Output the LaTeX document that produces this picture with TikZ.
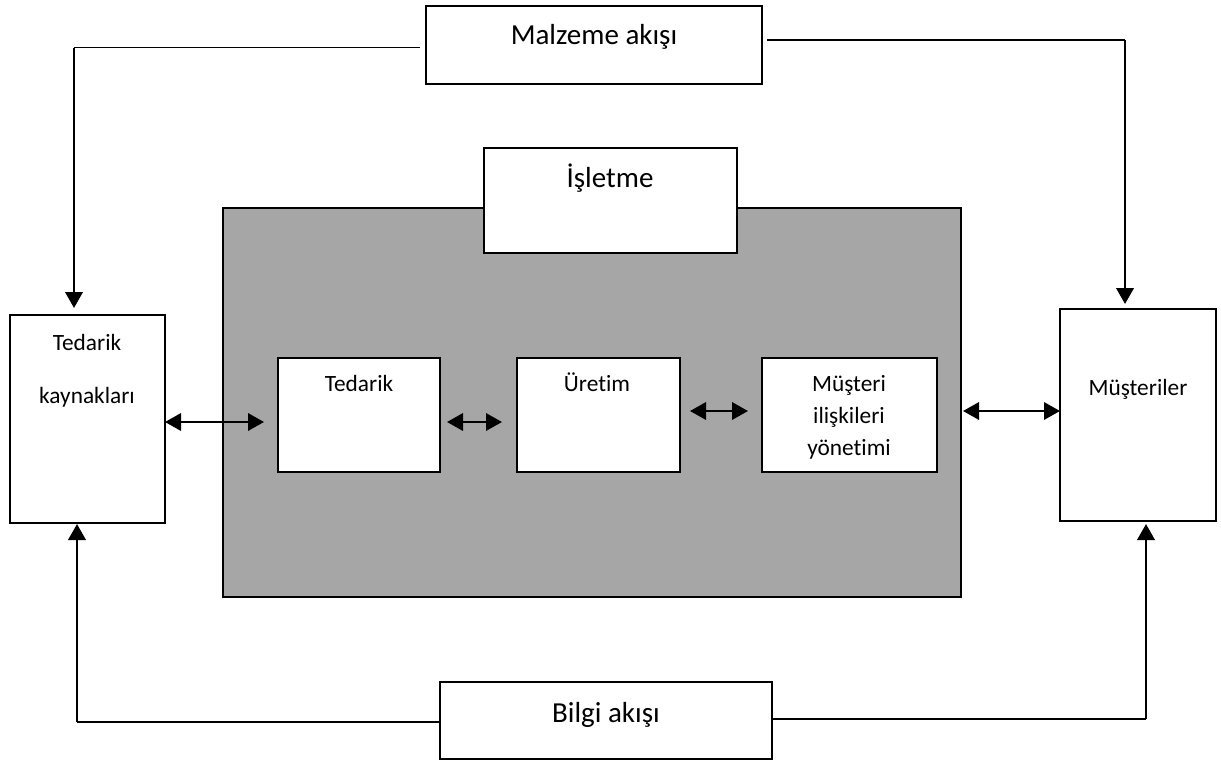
\documentclass[tikz,border=0pt]{standalone}
\usepackage{fontspec}
\setmainfont{Carlito}[Ligatures=NoCommon]
\usetikzlibrary{arrows.meta,fit}
\definecolor{firmgray}{RGB}{166,166,166}
\begin{document}
\begin{tikzpicture}[x=0.75pt,y=-0.75pt,
  box/.style={draw=black, fill=white, line width=1.5pt, inner sep=0pt, outer sep=0pt},
  firmbox/.style={draw=black, fill=firmgray, line width=1.5pt, inner sep=0pt, outer sep=0pt},
  bigtext/.style={anchor=base, inner sep=0pt, font=\fontsize{21.75}{26}\selectfont},
  smalltext/.style={anchor=base, inner sep=0pt, font=\fontsize{17.5}{20}\selectfont},
  flowline/.style={draw=black, line width=1pt},
  flowarrow/.style={draw=black, line width=2.1pt, -{Triangle[length=12pt,width=13pt]}},
  twoway/.style={draw=black, line width=1.8pt, {Triangle[length=12pt,width=13pt]}-{Triangle[length=12pt,width=13pt]}}
]
\useasboundingbox (0,0) rectangle (1221,760);

% the firm and its title box
\node[firmbox, fit={(223,208) (961,597)}] (firm) {};
\node[box, fit={(484,148) (737,253)}] (islb) {};
\node[bigtext] (islt) at (610,187) {İşletme};

% flow boxes
\node[box, fit={(426,6) (762,84)}] (malz) {};
\node[bigtext] (malzt) at (594,44) {Malzeme akışı};
\node[box, fit={(440,682) (772,759)}] (bilg) {};
\node[bigtext] (bilgt) at (606,722) {Bilgi akışı};

% outer partners
\node[box, fit={(10,315) (165,523)}] (tk) {};
\node[smalltext] (tkt1) at (87,350) {Tedarik};
\node[smalltext] (tkt2) at (87,403) {kaynakları};
\node[box, fit={(1060,309) (1216,521)}] (cust) {};
\node[smalltext] (custt) at (1138,395) {Müşteriler};

% functions inside the firm
\node[box, fit={(278,358) (440,472)}] (ted) {};
\node[smalltext] (tedt) at (359,391) {Tedarik};
\node[box, fit={(517,358) (680,472)}] (ure) {};
\node[smalltext] (uret) at (597,391) {Üretim};
\node[box, fit={(762,358) (937,472)}] (mus) {};
\node[smalltext] (must1) at (849,391) {Müşteri};
\node[smalltext] (must2) at (849,423) {ilişkileri};
\node[smalltext] (must3) at (849,455) {yönetimi};

% material flow
\coordinate (mL0) at (420,47.5);
\coordinate (mL1) at (74,47.5);
\coordinate (mL2) at (74,308);
\coordinate (mR0) at (767,40);
\coordinate (mR1) at (1125,40);
\coordinate (mR2) at (1125,304);
\draw[flowline] (mL0) -- (mL1);
\draw[flowarrow] (mL1) -- (mL2);
\draw[flowline] (mR0) -- (mR1);
\draw[flowarrow] (mR1) -- (mR2);

% information flow
\coordinate (bL1) at (77,722);
\coordinate (bL2) at (77,524);
\coordinate (bR1) at (1146,719);
\coordinate (bR2) at (1146,524);
\draw[flowline] (bilg.west |- bL1) -- (bL1);
\draw[flowarrow] (bL1) -- (bL2);
\draw[flowline] (bilg.east |- bR1) -- (bR1);
\draw[flowarrow] (bR1) -- (bR2);

% two-way links
\coordinate (t1) at (264,422);
\draw[twoway] (tk.east |- t1) -- (t1);
\coordinate (t2a) at (447,422);
\coordinate (t2b) at (502,422);
\draw[twoway] (t2a) -- (t2b);
\coordinate (t3a) at (690,411);
\coordinate (t3b) at (748,411);
\draw[twoway] (t3a) -- (t3b);
\coordinate (t4) at (963,411);
\draw[twoway] (t4) -- (cust.west |- t4);
\end{tikzpicture}
\end{document}
